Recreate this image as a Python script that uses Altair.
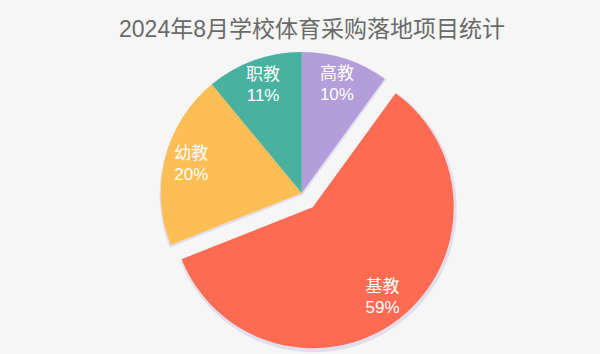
import math
import altair as alt
import pandas as pd

title_text = "2024年8月学校体育采购落地项目统计"
categories = ["高教", "基教", "幼教", "职教"]
shares = [10, 59, 20, 11]
colors = ["#b39ddb", "#fe6b53", "#fdbe55", "#48b19f"]
exploded = "基教"

df = pd.DataFrame({
    "cat": categories,
    "share": shares,
    "order": list(range(len(categories))),
    "label": [f"{c}\n{s}%" for c, s in zip(categories, shares)],
})

FONT = "Liberation Sans, Noto Sans CJK SC"
TOP = 50
W, H = 600, 354 - TOP
CX, CY = 301.7, 193 - TOP
R = 141
LR = 114
EXPLODE = 18

total = sum(shares)
idx = categories.index(exploded)
mid = (sum(shares[:idx]) + shares[idx] / 2) / total * 2 * math.pi
ox = EXPLODE * math.sin(mid)
oy = -EXPLODE * math.cos(mid)

theta_scale = alt.Scale(domain=[0, total], range=[0, 2 * math.pi])
color = alt.Color("cat:N", scale=alt.Scale(domain=categories, range=colors), legend=None)

base = (
    alt.Chart(df)
    .transform_window(cum="sum(share)", sort=[alt.SortField("order")])
    .transform_calculate(start="datum.cum - datum.share", mid="datum.cum - datum.share / 2")
)

arc_enc = dict(
    theta=alt.Theta("start:Q", scale=theta_scale),
    theta2="cum:Q",
    x=alt.value(CX),
    y=alt.value(CY),
)

not_ex = f"datum.cat != '{exploded}'"
is_ex = f"datum.cat == '{exploded}'"

shadow_rest = base.transform_filter(not_ex).mark_arc(
    radius=R + 2, color="#bdb1da", opacity=0.35, xOffset=1, yOffset=2
).encode(**arc_enc)
shadow_ex = base.transform_filter(is_ex).mark_arc(
    radius=R + 2, color="#bdb1da", opacity=0.35, xOffset=ox + 1, yOffset=oy + 2
).encode(**arc_enc)

arcs_rest = base.transform_filter(not_ex).mark_arc(radius=R).encode(color=color, **arc_enc)
arcs_ex = base.transform_filter(is_ex).mark_arc(radius=R, xOffset=ox, yOffset=oy).encode(color=color, **arc_enc)

text_props = dict(
    radius=LR, color="white", fontSize=17, font=FONT,
    lineBreak="\n", lineHeight=21, align="center", baseline="middle",
)
text_enc = dict(
    theta=alt.Theta("mid:Q", scale=theta_scale),
    text="label:N",
    x=alt.value(CX),
    y=alt.value(CY),
)
labels_rest = base.transform_filter(not_ex).mark_text(yOffset=-10.5, **text_props).encode(**text_enc)
labels_ex = base.transform_filter(is_ex).mark_text(xOffset=ox, yOffset=oy - 10.5, **text_props).encode(**text_enc)

chart = (
    alt.layer(shadow_rest, shadow_ex, arcs_rest, arcs_ex, labels_rest, labels_ex)
    .properties(
        width=W,
        height=H,
        padding={"top": TOP, "left": 0, "right": 0, "bottom": 0},
        autosize=alt.AutoSizeParams(type="none"),
        background="#f6f6f6",
        title=alt.Title(
            title_text, fontSize=23, color="#6a6a6a", font=FONT,
            fontWeight="normal", anchor="middle", dx=12, baseline="alphabetic",
            offset=-10, frame="group",
        ),
    )
    .configure_view(stroke=None)
)

chart.save("out.html", embed_options={"renderer": "svg", "actions": False})
